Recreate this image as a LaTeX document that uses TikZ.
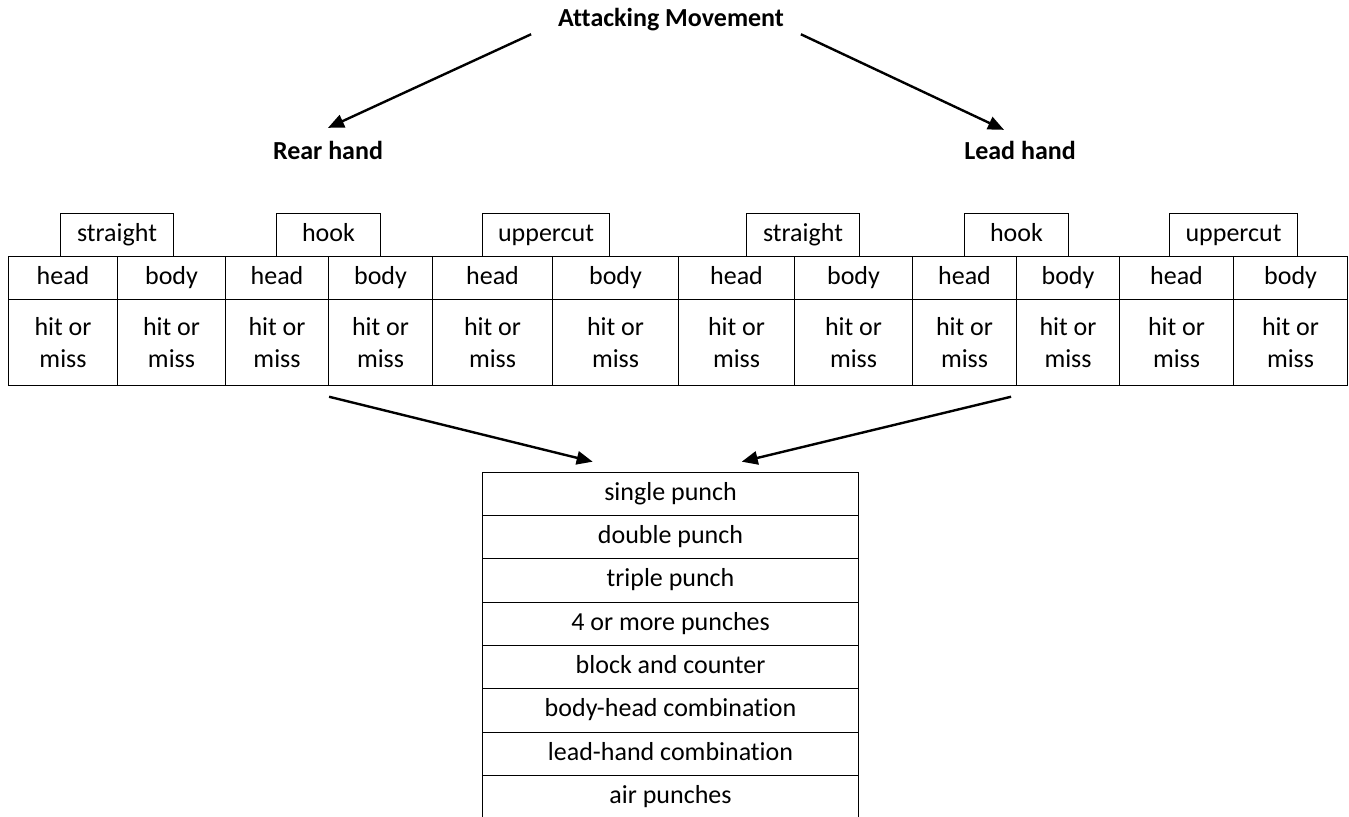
\documentclass[tikz,border=0pt]{standalone}
\usepackage{fontspec}
\setmainfont{Carlito}[Ligatures=NoCommon]
\usepackage{tikz}
\usetikzlibrary{arrows.meta}

\tikzset{
    cell/.style={draw, line width=0.8pt, inner sep=0pt, anchor=north west, align=center, font=\fontsize{19.5}{24.5}\selectfont},
    oneline/.style={text height=13.5pt, text depth=4pt},
    handtxt/.style={inner sep=2pt, font=\fontsize{19.5}{24}\selectfont\bfseries},
    flow/.style={-{Triangle[length=12pt,width=10pt]}, line width=1.8pt}
}

\begin{document}
\begin{tikzpicture}[x=0.75pt,y=0.75pt,yscale=-1,xscale=1]
        \useasboundingbox (0,0) rectangle (1349,817);

        \node[handtxt] (attack) at (671,20) {Attacking Movement};
        \node[handtxt] (rear) at (328,150) {Rear hand};
        \node[handtxt] (lead) at (1020,150) {Lead hand};

        % punch types
        \foreach \xa/\xb/\kind [count=\i] in {60/173/straight,276/380/hook,482/609/uppercut,746/859/straight,964/1068/hook,1169/1297/uppercut}{
            \pgfmathsetmacro\w{(\xb-\xa)*0.75}
            \node[cell, oneline, minimum width=\w pt, minimum height=32.25pt] (kind\i) at (\xa,213) {\kind};
        }

        % target and outcome cells
        \foreach \xa/\xb/\part [count=\i] in {8/117/head,117/225/body,225/328/head,328/432/body,432/552/head,552/678/body,678/794/head,794/912/body,912/1016/head,1016/1119/body,1119/1233/head,1233/1347/body}{
            \pgfmathsetmacro\w{(\xb-\xa)*0.75}
            \node[cell, oneline, minimum width=\w pt, minimum height=32.25pt] (hb\i) at (\xa,256) {\part};
            \node[cell, minimum width=\w pt, minimum height=64.5pt] (hm\i) at (\xa,299) {hit or\\miss};
        }

        % combinations
        \foreach \t [count=\i] in {single punch,double punch,triple punch,4 or more punches,block and counter,body-head combination,lead-hand combination,air punches}{
            \node[cell, oneline, minimum width=282pt, minimum height=32.5pt] (p\i) at (482,{471.7+43.33*(\i-1)}) {\t};
        }

        \draw[flow] ([xshift=-18pt]attack.south west) -- ([yshift=-7.5pt]rear.north);
        \draw[flow] ([xshift=10.5pt]attack.south east) -- ([xshift=-12pt,yshift=-6pt]lead.north);
        \draw[flow] ([yshift=8pt]hm3.south east) -- ([xshift=83pt,yshift=-7.5pt]p1.north west);
        \draw[flow] ([xshift=-4.5pt,yshift=8pt]hm9.south east) -- ([xshift=-88pt,yshift=-7.5pt]p1.north east);
\end{tikzpicture}
\end{document}
